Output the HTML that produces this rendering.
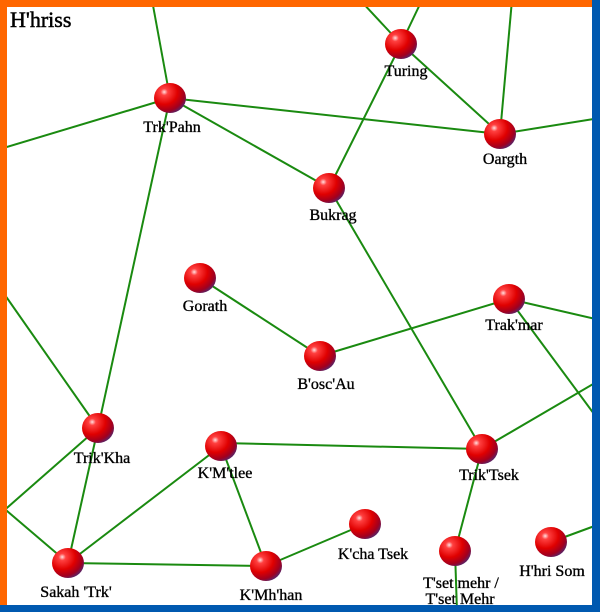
<!DOCTYPE html>
<html><head><meta charset="utf-8"><style>
html,body{margin:0;padding:0;background:#fff;}
svg{display:block}
text{font-family:"Liberation Serif",serif;font-size:16px;fill:#000;stroke:#000;stroke-width:0.35;text-anchor:middle}
</style></head><body>
<svg width="600" height="612" viewBox="0 0 600 612" xmlns="http://www.w3.org/2000/svg">
<defs>
<radialGradient id="b" cx="0.32" cy="0.3" r="0.75">
<stop offset="0" stop-color="#ffe0e0"/>
<stop offset="0.15" stop-color="#ff4040"/>
<stop offset="0.55" stop-color="#e00000"/>
<stop offset="0.85" stop-color="#a00020"/>
<stop offset="1" stop-color="#602060"/>
</radialGradient>
</defs>
<rect width="600" height="612" fill="#fff"/>
<g stroke="#1a8a10" stroke-width="2" fill="none">
<line x1="170" y1="98" x2="152" y2="0"/>
<line x1="170" y1="98" x2="0" y2="149"/>
<line x1="170" y1="98" x2="500" y2="134"/>
<line x1="170" y1="98" x2="329" y2="188"/>
<line x1="170" y1="98" x2="98" y2="428"/>
<line x1="401" y1="44" x2="360" y2="0"/>
<line x1="401" y1="44" x2="422" y2="0"/>
<line x1="401" y1="44" x2="500" y2="134"/>
<line x1="401" y1="44" x2="329" y2="188"/>
<line x1="500" y1="134" x2="512" y2="0"/>
<line x1="500" y1="134" x2="600" y2="118"/>
<line x1="329" y1="188" x2="482" y2="449"/>
<line x1="200" y1="278" x2="320" y2="356"/>
<line x1="320" y1="356" x2="509" y2="299"/>
<line x1="509" y1="299" x2="600" y2="320"/>
<line x1="509" y1="299" x2="600" y2="422"/>
<line x1="482" y1="449" x2="221" y2="443"/>
<line x1="482" y1="449" x2="600" y2="380"/>
<line x1="482" y1="449" x2="455" y2="551"/>
<line x1="455" y1="551" x2="457" y2="612"/>
<line x1="0" y1="288" x2="98" y2="428"/>
<line x1="98" y1="428" x2="68" y2="563"/>
<line x1="98" y1="428" x2="0" y2="514"/>
<line x1="68" y1="563" x2="0" y2="505"/>
<line x1="68" y1="563" x2="221" y2="446"/>
<line x1="68" y1="563" x2="266" y2="566"/>
<line x1="221" y1="446" x2="266" y2="566"/>
<line x1="266" y1="566" x2="365" y2="524"/>
<line x1="551" y1="542" x2="600" y2="524"/>
</g>
<g fill="url(#b)">
<ellipse cx="170" cy="98" rx="16" ry="15"/>
<ellipse cx="401" cy="44" rx="16" ry="15"/>
<ellipse cx="500" cy="134" rx="16" ry="15"/>
<ellipse cx="329" cy="188" rx="16" ry="15"/>
<ellipse cx="200" cy="278" rx="16" ry="15"/>
<ellipse cx="509" cy="299" rx="16" ry="15"/>
<ellipse cx="320" cy="356" rx="16" ry="15"/>
<ellipse cx="98" cy="428" rx="16" ry="15"/>
<ellipse cx="221" cy="446" rx="16" ry="15"/>
<ellipse cx="482" cy="449" rx="16" ry="15"/>
<ellipse cx="365" cy="524" rx="16" ry="15"/>
<ellipse cx="455" cy="551" rx="16" ry="15"/>
<ellipse cx="551" cy="542" rx="16" ry="15"/>
<ellipse cx="68" cy="563" rx="16" ry="15"/>
<ellipse cx="266" cy="566" rx="16" ry="15"/>
</g>
<text x="172" y="132">Trk'Pahn</text>
<text x="406" y="76">Turing</text>
<text x="505" y="164">Oargth</text>
<text x="333" y="220">Bukrag</text>
<text x="205" y="311">Gorath</text>
<text x="514" y="330">Trak'mar</text>
<text x="326" y="389">B'osc'Au</text>
<text x="102" y="463">Trik'Kha</text>
<text x="225" y="478">K'M'tlee</text>
<text x="489" y="480">Trik'Tsek</text>
<text x="373" y="559">K'cha Tsek</text>
<text x="461" y="588">T'set mehr /</text>
<text x="460" y="604">T'set Mehr</text>
<text x="552" y="576">H'hri Som</text>
<text x="76" y="597">Sakah 'Trk'</text>
<text x="271" y="600">K'Mh'han</text>
<text x="10" y="27" style="font-size:22px;text-anchor:start;stroke-width:0.5">H'hriss</text>
<rect x="0" y="0" width="593" height="7" fill="#ff6600"/>
<rect x="0" y="0" width="7" height="605" fill="#ff6600"/>
<rect x="592" y="0" width="8" height="612" fill="#0059b0"/>
<rect x="0" y="605" width="600" height="7" fill="#0059b0"/>
</svg>
</body></html>
